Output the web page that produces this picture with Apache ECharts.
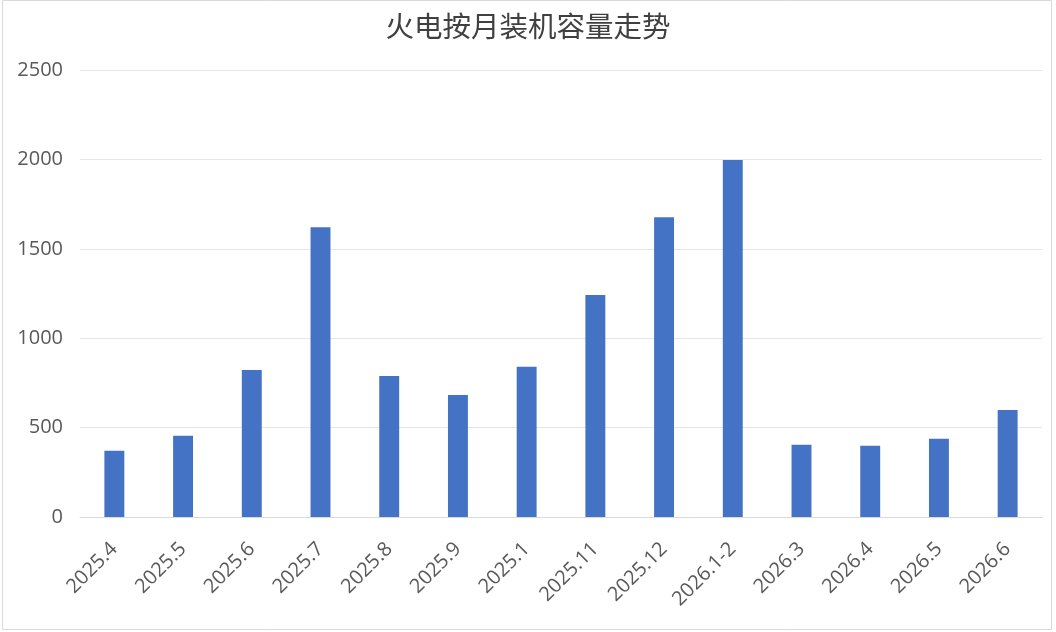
<!DOCTYPE html>
<html>
<head>
<meta charset="utf-8">
<script src="https://cdn.jsdelivr.net/npm/echarts@6/dist/echarts.min.js"></script>
<style>
html,body{margin:0;padding:0;background:#fff;}
#chart{width:1056px;height:632px;}
</style>
</head>
<body>
<div id="chart"></div>
<script>
const titleText = '火电按月装机容量走势';
const categories = ['2025.4','2025.5','2025.6','2025.7','2025.8','2025.9','2025.1','2025.11','2025.12','2026.1-2','2026.3','2026.4','2026.5','2026.6'];
const values = [370, 454, 822, 1620, 789, 683, 840, 1242, 1677, 1996, 404, 399, 437, 599];
const yTicks = [0, 500, 1000, 1500, 2000, 2500];

const chart = echarts.init(document.getElementById('chart'));
chart.setOption({
  animation: false,
  backgroundColor: '#fff',
  title: {
    text: titleText,
    left: 'center',
    top: 7,
    textStyle: {fontFamily: '"Noto Sans CJK SC"', fontSize: 28.5, fontWeight: 'normal', color: '#404040'}
  },
  graphic: [{
    type: 'rect',
    shape: {x: 2.5, y: 0.5, width: 1049, height: 629},
    style: {fill: 'none', stroke: '#d9d9d9', lineWidth: 1},
    silent: true
  }],
  grid: {left: 80, right: 14, top: 70, bottom: 115},
  xAxis: {
    type: 'category',
    data: categories,
    axisLine: {lineStyle: {color: '#d9d9d9', width: 1}},
    axisTick: {show: false},
    axisLabel: {rotate: 45, interval: 0, margin: 29, color: '#595959', fontSize: 20, fontFamily: '"Open Sans"'}
  },
  yAxis: {
    type: 'value',
    min: yTicks[0],
    max: yTicks[yTicks.length - 1],
    interval: 500,
    axisLine: {show: false},
    axisTick: {show: false},
    splitLine: {lineStyle: {color: '#e6e6e6', width: 1}},
    axisLabel: {color: '#595959', fontSize: 20, margin: 17, fontFamily: '"Open Sans"', formatter: v => String(v)}
  },
  series: [{
    type: 'bar',
    data: values,
    barWidth: '29%',
    itemStyle: {color: '#4472c4'}
  }]
});
</script>
</body>
</html>
